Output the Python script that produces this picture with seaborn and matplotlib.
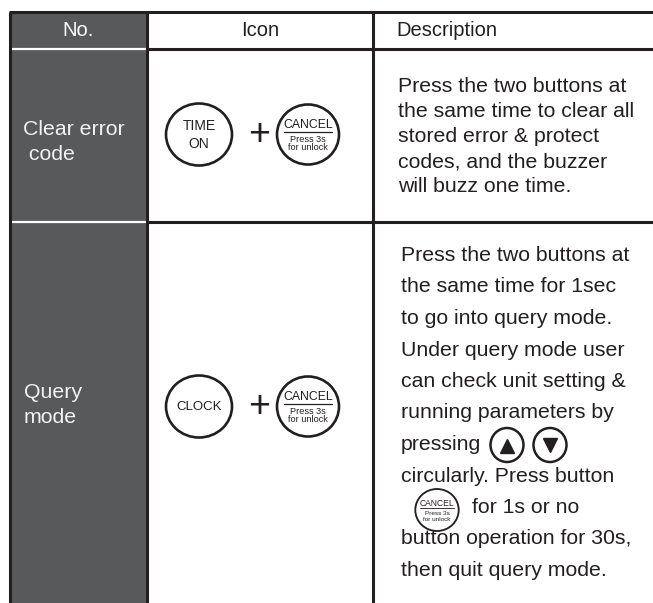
import matplotlib
matplotlib.use("Agg")
import matplotlib.pyplot as plt
from matplotlib.patches import Ellipse, Rectangle
import seaborn as sns

# table content
headers = ["No.", "Icon", "Description"]
row_names = [["Clear error", " code"], ["Query", "mode"]]
row_buttons = [[["TIME", "ON"], "CANCEL"], [["CLOCK"], "CANCEL"]]
cancel_lines = ["CANCEL", "Press 3s", "for unlock"]
desc_clear = ["Press the two buttons at",
              "the same time to clear all",
              "stored error & protect",
              "codes, and the buzzer",
              "will buzz one time."]
desc_query = ["Press the two buttons at",
              "the same time for 1sec",
              "to go into query mode.",
              "Under query mode user",
              "can check unit setting &",
              "running parameters by",
              "pressing",
              "circularly. Press button",
              "for 1s or no",
              "button operation for 30s,",
              "then quit query mode."]

sns.set_theme(style="white")
plt.rcParams['font.family'] = ['Liberation Sans', 'DejaVu Sans']

dark = '#231f20'
fill = '#58595b'
W, H = 653, 603
fs = 15.3

fig = plt.figure(figsize=(W / 100, H / 100), dpi=100)
ax = fig.add_axes([0, 0, 1, 1])
ax.set_xlim(0, W)
ax.set_ylim(H, 0)
ax.axis('off')

# grid geometry (pixels)
col_x = [10, 147, 373, W]
row_y = [11.5, 48.5, 222, H]
lw = 2.2


def hline(y, x0, x1, color=dark, w=lw):
    ax.plot([x0, x1], [y, y], color=color, lw=w, solid_capstyle='butt')


def vline(x, y0, y1, color=dark, w=lw):
    ax.plot([x, x], [y0, y1], color=color, lw=w, solid_capstyle='butt')


# dark first column
ax.add_patch(Rectangle((col_x[0], row_y[0]), col_x[1] - col_x[0], H, color=fill, lw=0))
hline(row_y[0], col_x[0] - 1, W)
for y in row_y[1:3]:
    hline(y, col_x[1], W)
    hline(y, col_x[0] + 1.5, col_x[1] - 1.5, color='white', w=1.6)
for x in col_x[:3]:
    vline(x, row_y[0], H)

# header
hy = (row_y[0] + row_y[1]) / 2 + 0.5
ax.text((col_x[0] + col_x[1]) / 2, hy, headers[0], color='white', fontsize=14.5,
        ha='center', va='center')
ax.text((col_x[1] + col_x[2]) / 2, hy, headers[1], color=dark, fontsize=14.5,
        ha='center', va='center')
ax.text(396, hy, headers[2], color=dark, fontsize=14.5, ha='left', va='center')


def cancel_button(cx, cy, s=1.0):
    ax.add_patch(Ellipse((cx, cy), 62 * s, 60 * s, fill=False, ec=dark, lw=1.9 * s))
    ax.text(cx, cy - 10 * s, cancel_lines[0], fontsize=8.8 * s, color=dark,
            ha='center', va='center')
    ax.plot([cx - 24 * s, cx + 24 * s], [cy - 3 * s, cy - 3 * s], color=dark, lw=0.9 * s)
    ax.text(cx, cy + 5 * s, cancel_lines[1], fontsize=6.6 * s, color=dark,
            ha='center', va='center')
    ax.text(cx, cy + 13 * s, cancel_lines[2], fontsize=6.6 * s, color=dark,
            ha='center', va='center')


def plain_button(cx, cy, label):
    ax.add_patch(Ellipse((cx, cy), 66, 62, fill=False, ec=dark, lw=1.9))
    if len(label) == 2:
        ax.text(cx, cy - 8, label[0], fontsize=10, color=dark, ha='center', va='center')
        ax.text(cx, cy + 10, label[1], fontsize=10, color=dark, ha='center', va='center')
    else:
        ax.text(cx, cy + 1, label[0], fontsize=9.5, color=dark, ha='center', va='center')


def arrow_button(cx, cy, marker):
    ax.add_patch(Ellipse((cx, cy), 33, 34, fill=False, ec=dark, lw=1.8))
    ax.plot([cx], [cy + (1 if marker == '^' else 0)], marker=marker, ms=9.5,
            color=dark, mec=dark)


# row labels
label_base = [[135, 160], [398, 423]]
label_x = [[23, 23], [24, 24]]
for r in range(2):
    for k in range(2):
        ax.text(label_x[r][k], label_base[r][k], row_names[r][k], color='#f2f2f2',
                fontsize=fs, ha='left', va='baseline')

# icons
icon_cy = [134.5, 406.5]
for r in range(2):
    cy = icon_cy[r]
    plain_button(199, cy, row_buttons[r][0])
    ax.text(259, cy, '+', fontsize=27, color=dark, ha='center', va='center')
    cancel_button(308, cy)

# descriptions
for k, line in enumerate(desc_clear):
    ax.text(398, 92 + 25 * k, line, fontsize=fs, color=dark, ha='left', va='baseline')

q_x = {8: 472}
for k, line in enumerate(desc_query):
    ax.text(q_x.get(k, 401), 261 + 31.5 * k, line, fontsize=fs, color=dark,
            ha='left', va='baseline')

arrow_button(507, 445, '^')
arrow_button(550, 445, 'v')
cancel_button(437, 510, s=0.7)

fig.savefig('out.png', dpi=100)
